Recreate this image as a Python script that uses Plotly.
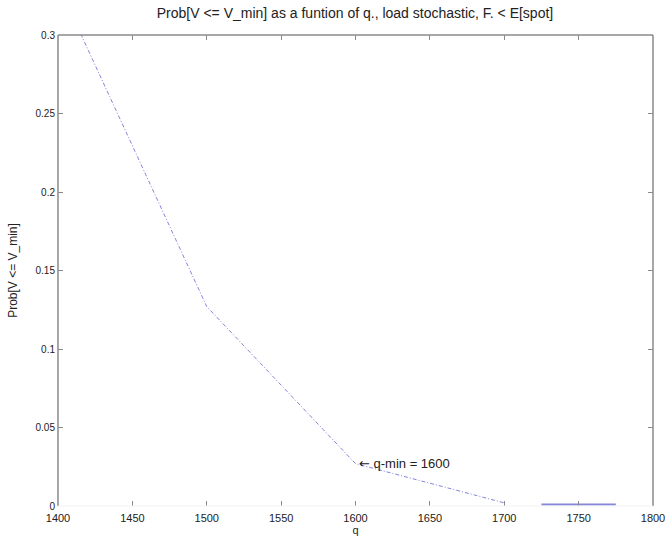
import plotly.graph_objects as go

# q values and probability of undervoltage
q_values = [1400, 1500, 1600, 1700]
prob_values = [0.332, 0.127, 0.027, 0.002]

# flat tail beyond the last sampled point
tail_q = [1725, 1775]
tail_prob = [0.001, 0.001]

x_ticks = [1400, 1450, 1500, 1550, 1600, 1650, 1700, 1750, 1800]
y_ticks = [0, 0.05, 0.1, 0.15, 0.2, 0.25, 0.3]
y_tick_text = ["0", "0.05", "0.1", "0.15", "0.2", "0.25", "0.3"]

q_min = 1600
q_min_prob = 0.027

line_color = "#8585dc"
axis_color = "#8a8a8a"
family = "Liberation Sans, Arial, sans-serif"
font = dict(family=family, size=10, color="#222222")

fig = go.Figure()
fig.add_trace(go.Scatter(
    x=q_values, y=prob_values, mode="lines",
    line=dict(color=line_color, width=1, dash="4px,2px,1px,2px"),
    showlegend=False, cliponaxis=True,
))
fig.add_trace(go.Scatter(
    x=tail_q, y=tail_prob, mode="lines",
    line=dict(color=line_color, width=2),
    showlegend=False,
))

fig.add_annotation(
    x=q_min, y=q_min_prob,
    text="<span style='font-family:DejaVu Sans'>\u2190</span> q-min = " + str(q_min),
    showarrow=False, xanchor="left", yanchor="middle", xshift=1,
    font=dict(family=family, size=13, color="#222222"),
)

# axes box: gray on three sides, faint along the bottom
fig.add_shape(type="line", xref="paper", yref="paper", x0=0, x1=0, y0=0, y1=1,
              line=dict(color=axis_color, width=1.5))
fig.add_shape(type="line", xref="paper", yref="paper", x0=1, x1=1, y0=0, y1=1,
              line=dict(color=axis_color, width=1.5))
fig.add_shape(type="line", xref="paper", yref="paper", x0=0, x1=1, y0=1, y1=1,
              line=dict(color=axis_color, width=1.5))
fig.add_shape(type="line", xref="paper", yref="paper", x0=0, x1=1, y0=0, y1=0,
              line=dict(color="#f2f2f2", width=1))

fig.update_layout(
    width=666, height=540,
    margin=dict(l=58, r=13, t=35, b=34),
    paper_bgcolor="white", plot_bgcolor="white",
    font=font,
    title=dict(
        text="Prob[V <= V_min] as a funtion of q., load stochastic, F. < E[spot]",
        x=0.533, xanchor="center", y=0.976, yanchor="middle",
        font=dict(family=family, size=14, color="#222222"),
    ),
    xaxis=dict(
        range=[1400, 1800], tickvals=x_ticks, ticks="inside", ticklen=5,
        tickcolor=axis_color, mirror="ticks", showline=False, showgrid=False,
        zeroline=False, ticklabelstandoff=4, automargin=False,
        tickfont=dict(family=family, size=11, color="#222222"),
        title=dict(text="q", standoff=0, font=dict(family=family, size=11)),
    ),
    yaxis=dict(
        range=[0, 0.3], tickvals=y_ticks, ticktext=y_tick_text, ticks="inside",
        ticklen=5, tickcolor=axis_color, mirror="ticks", showline=False,
        showgrid=False, zeroline=False, ticklabelstandoff=2, automargin=False,
        tickfont=dict(family=family, size=10, color="#222222"),
        title=dict(text="Prob[V <= V_min]", font=dict(family=family, size=12)),
    ),
)

fig.write_html("out.html")
